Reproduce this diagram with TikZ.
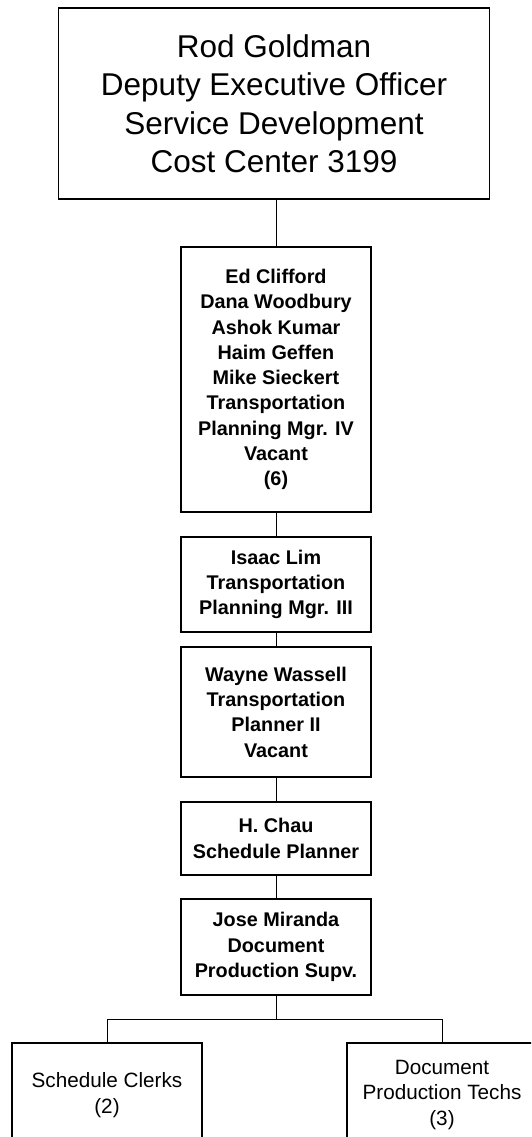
\documentclass[tikz,border=0pt]{standalone}
\usepackage{fontspec}
\setmainfont{Liberation Sans}
\begin{document}
\begin{tikzpicture}[x=1pt,y=-1pt,
  box/.style={draw=black,line width=1.4pt,inner sep=0pt,align=center,
    font=\fontsize{20.7}{25.3}\selectfont},
  midbox/.style={box,minimum width=190pt,font=\fontsize{19.8}{25.3}\selectfont\bfseries},
  topbox/.style={box,font=\fontsize{31.5}{38.5}\selectfont},
  link/.style={draw=black,line width=1pt}]
\useasboundingbox (0,0) rectangle (531,1137);
\clip (0,0) rectangle (531,1137);
\fill[white] (0,0) rectangle (531,1137);
\node[topbox,minimum width=431pt,minimum height=191pt] (top) at (274,103.5)
  {Rod Goldman\\Deputy Executive Officer\\Service Development\\Cost Center 3199};
\node[midbox,minimum height=265pt] (b2) at (276,379.5)
  {Ed Clifford\\Dana Woodbury\\Ashok Kumar\\Haim Geffen\\Mike Sieckert\\Transportation\\Planning Mgr. IV\\Vacant\\(6)};
\node[midbox,minimum height=95pt] (b3) at (276,584.5)
  {Isaac Lim\\Transportation\\Planning Mgr. III};
\node[midbox,minimum height=130pt] (b4) at (276,712)
  {Wayne Wassell\\Transportation\\Planner II\\Vacant};
\node[midbox,minimum height=73pt] (b5) at (276,838.5)
  {H. Chau\\Schedule Planner};
\node[midbox,minimum height=96pt] (b6) at (276,947)
  {Jose Miranda\\Document\\Production Supv.};
\node[box,minimum width=190pt,minimum height=104pt] (lc) at (107,1095)
  {Schedule Clerks\\(2)};
\node[box,minimum width=190pt,minimum height=104pt] (rc) at (442,1095)
  {Document\\Production Techs\\(3)};
\draw[link] (top.south -| b2.north) -- (b2.north);
\draw[link] (b2) -- (b3);
\draw[link] (b3) -- (b4);
\draw[link] (b4) -- (b5);
\draw[link] (b5) -- (b6);
\draw[link] (b6.south) -- ++(0,24) coordinate (bar);
\draw[link] (lc.north) |- (bar) -| (rc.north);
\end{tikzpicture}
\end{document}
